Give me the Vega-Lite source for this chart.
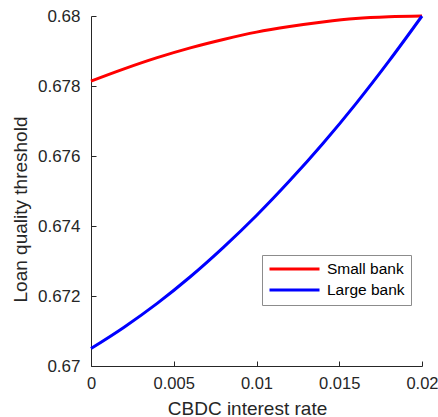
{
  "$schema": "https://vega.github.io/schema/vega-lite/v6.json",
  "width": 331,
  "height": 350,
  "autosize": {"type": "none"},
  "padding": {"left": 91, "top": 16, "right": 16, "bottom": 51},
  "background": "white",
  "config": {
    "view": {"stroke": null},
    "font": "Liberation Sans",
    "axis": {
      "grid": false,
      "domainColor": "#262626",
      "domainWidth": 1,
      "tickColor": "#262626",
      "tickWidth": 1,
      "tickSize": -5,
      "labelColor": "#262626",
      "labelFont": "Liberation Sans",
      "labelFontSize": 17,
      "labelFlush": false,
      "labelOverlap": false,
      "labelBound": false,
      "titleColor": "#262626",
      "titleFont": "Liberation Sans",
      "titleFontSize": 19,
      "titleFontWeight": "normal"
    }
  },
  "data": {
    "values": [
      {"rate": 0.000, "threshold": 0.67814, "bank": "Small bank"},
      {"rate": 0.002, "threshold": 0.67849, "bank": "Small bank"},
      {"rate": 0.004, "threshold": 0.67881, "bank": "Small bank"},
      {"rate": 0.006, "threshold": 0.67909, "bank": "Small bank"},
      {"rate": 0.008, "threshold": 0.67933, "bank": "Small bank"},
      {"rate": 0.010, "threshold": 0.67954, "bank": "Small bank"},
      {"rate": 0.012, "threshold": 0.67970, "bank": "Small bank"},
      {"rate": 0.014, "threshold": 0.67983, "bank": "Small bank"},
      {"rate": 0.016, "threshold": 0.67993, "bank": "Small bank"},
      {"rate": 0.018, "threshold": 0.67998, "bank": "Small bank"},
      {"rate": 0.020, "threshold": 0.68000, "bank": "Small bank"},
      {"rate": 0.000, "threshold": 0.67050, "bank": "Large bank"},
      {"rate": 0.002, "threshold": 0.67111, "bank": "Large bank"},
      {"rate": 0.004, "threshold": 0.67179, "bank": "Large bank"},
      {"rate": 0.006, "threshold": 0.67255, "bank": "Large bank"},
      {"rate": 0.008, "threshold": 0.67339, "bank": "Large bank"},
      {"rate": 0.010, "threshold": 0.67430, "bank": "Large bank"},
      {"rate": 0.012, "threshold": 0.67529, "bank": "Large bank"},
      {"rate": 0.014, "threshold": 0.67635, "bank": "Large bank"},
      {"rate": 0.016, "threshold": 0.67749, "bank": "Large bank"},
      {"rate": 0.018, "threshold": 0.67871, "bank": "Large bank"},
      {"rate": 0.020, "threshold": 0.68000, "bank": "Large bank"}
    ]
  },
  "mark": {"type": "line", "strokeWidth": 3, "interpolate": "monotone", "clip": false},
  "encoding": {
    "x": {
      "field": "rate",
      "type": "quantitative",
      "scale": {"domain": [0, 0.02], "nice": false, "zero": false},
      "axis": {
        "title": "CBDC interest rate",
        "values": [0, 0.005, 0.01, 0.015, 0.02],
        "format": "~g",
        "labelFontSize": 16.5,
        "labelPadding": 14,
        "titleX": 156,
        "titleY": 48,
        "titleAnchor": null,
        "titleAlign": "center",
        "titleBaseline": "alphabetic"
      }
    },
    "y": {
      "field": "threshold",
      "type": "quantitative",
      "scale": {"domain": [0.67, 0.68], "nice": false, "zero": false},
      "axis": {
        "title": "Loan quality threshold",
        "values": [0.67, 0.672, 0.674, 0.676, 0.678, 0.68],
        "format": "~g",
        "labelPadding": 16,
        "titleAngle": -90,
        "titleX": -65,
        "titleY": 193,
        "titleAlign": "center",
        "titleBaseline": "alphabetic"
      }
    },
    "color": {
      "field": "bank",
      "type": "nominal",
      "scale": {"domain": ["Small bank", "Large bank"], "range": ["#ff0000", "#0000ff"]},
      "legend": {
        "title": null,
        "orient": "none",
        "legendX": 171,
        "legendY": 239,
        "direction": "vertical",
        "fillColor": "white",
        "strokeColor": "#8c8c8c",
        "padding": 6,
        "symbolType": "stroke",
        "symbolSize": 2500,
        "symbolStrokeWidth": 3,
        "clipHeight": 16,
        "rowPadding": 4,
        "labelOffset": 6,
        "labelFont": "Liberation Sans",
        "labelFontSize": 15.5,
        "labelColor": "#000000"
      }
    }
  }
}
